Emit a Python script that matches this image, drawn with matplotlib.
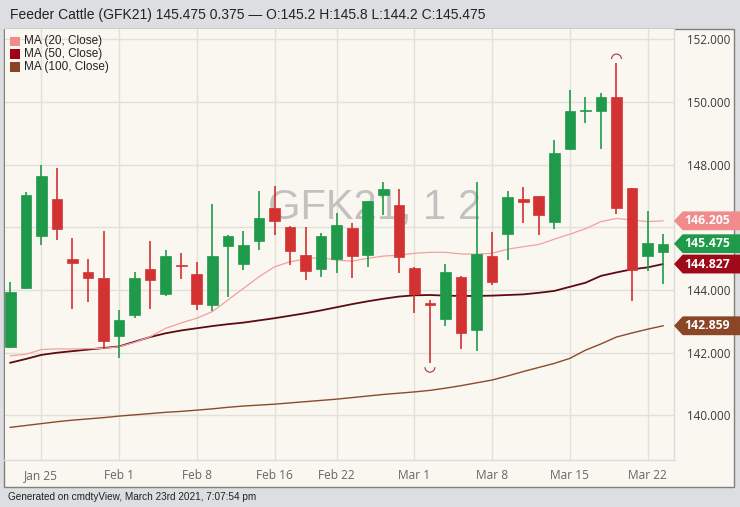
import matplotlib
matplotlib.use("Agg")
import matplotlib.pyplot as plt
from matplotlib.patches import Rectangle, Polygon, Arc
from matplotlib.transforms import blended_transform_factory

# ---------------- data ----------------
dates = ["Jan 21", "Jan 22", "Jan 25", "Jan 26", "Jan 27", "Jan 28", "Jan 29",
         "Feb 1", "Feb 2", "Feb 3", "Feb 4", "Feb 5",
         "Feb 8", "Feb 9", "Feb 10", "Feb 11", "Feb 12",
         "Feb 16", "Feb 17", "Feb 18", "Feb 19",
         "Feb 22", "Feb 23", "Feb 24", "Feb 25", "Feb 26",
         "Mar 1", "Mar 2", "Mar 3", "Mar 4", "Mar 5",
         "Mar 8", "Mar 9", "Mar 10", "Mar 11", "Mar 12",
         "Mar 15", "Mar 16", "Mar 17", "Mar 18", "Mar 19",
         "Mar 22", "Mar 23"]

opens = [142.17, 144.05, 145.72, 146.89, 145.00, 144.57, 144.38,
         142.54, 143.19, 144.66, 143.88, 144.79,
         144.51, 143.52, 145.41, 144.84, 145.57,
         146.60, 146.02, 145.11, 144.67,
         144.98, 145.99, 145.11, 147.03, 146.71,
         144.69, 143.58, 143.09, 144.41, 142.71,
         145.08, 145.77, 146.91, 146.99, 146.17,
         148.48, 149.69, 149.71, 150.14, 147.24,
         145.08, 145.2]
highs = [144.26, 147.12, 147.98, 147.88, 145.67, 144.99, 145.89,
         143.36, 144.56, 145.57, 145.27, 145.19,
         144.89, 146.73, 145.76, 145.89, 147.15,
         147.32, 146.05, 146.02, 145.81,
         146.44, 146.14, 146.85, 147.45, 147.22,
         144.72, 143.68, 144.83, 144.43, 147.45,
         145.84, 147.14, 147.29, 147.00, 148.78,
         150.37, 150.14, 150.27, 151.24, 147.26,
         146.53, 145.8]
lows = [142.15, 144.02, 145.44, 145.58, 143.40, 143.61, 142.12,
        141.82, 143.12, 143.38, 143.82, 144.36,
        143.35, 143.34, 143.79, 144.64, 145.29,
        145.75, 144.79, 144.32, 144.40,
        144.53, 144.39, 144.74, 146.39, 144.53,
        143.26, 141.66, 142.85, 142.11, 142.05,
        144.16, 144.95, 146.14, 145.74, 145.95,
        148.46, 149.31, 148.48, 146.42, 143.66,
        144.62, 144.2]
closes = [143.93, 147.03, 147.64, 145.93, 144.87, 144.37, 142.36,
          143.05, 144.38, 144.32, 145.08, 144.75,
          143.56, 145.08, 145.72, 145.45, 146.29,
          146.19, 145.25, 144.61, 145.72,
          146.07, 145.08, 146.83, 147.22, 145.06,
          143.87, 143.52, 144.57, 142.64, 145.14,
          144.26, 146.97, 146.80, 146.39, 148.36,
          149.71, 149.74, 150.16, 146.60, 144.64,
          145.51, 145.475]

ma20 = [141.90, 141.95, 142.10, 142.12, 142.12, 142.13, 142.14, 142.19, 142.33, 142.51,
        142.78, 142.95, 143.10, 143.31, 143.68, 144.05, 144.42, 144.74, 144.90, 144.99,
        145.04, 144.95, 144.92, 145.01, 145.08, 145.11, 145.17, 145.20, 145.20, 145.15,
        145.14, 145.17, 145.30, 145.38, 145.45, 145.62, 145.78, 145.95, 146.18, 146.28,
        146.23, 146.18, 146.205]
ma50 = [141.68, 141.80, 141.93, 142.00, 142.05, 142.10, 142.15, 142.20, 142.35, 142.50,
        142.62, 142.71, 142.78, 142.85, 142.91, 142.96, 143.03, 143.10, 143.18, 143.26,
        143.35, 143.45, 143.55, 143.64, 143.72, 143.79, 143.83, 143.84, 143.82, 143.81,
        143.81, 143.82, 143.84, 143.86, 143.91, 143.97, 144.10, 144.23, 144.45, 144.56,
        144.66, 144.72, 144.827]
ma100 = [139.62, 139.68, 139.74, 139.80, 139.85, 139.89, 139.93, 139.98, 140.02, 140.06,
         140.10, 140.13, 140.17, 140.21, 140.26, 140.30, 140.33, 140.36, 140.40, 140.44,
         140.48, 140.52, 140.57, 140.62, 140.67, 140.71, 140.75, 140.80, 140.87, 140.95,
         141.04, 141.13, 141.26, 141.40, 141.53, 141.66, 141.82, 142.08, 142.28, 142.50,
         142.63, 142.75, 142.859]

tick_dates = ["Jan 25", "Feb 1", "Feb 8", "Feb 16", "Feb 22", "Mar 1", "Mar 8", "Mar 15", "Mar 22"]
y_ticks = [140, 142, 144, 146, 148, 150, 152]
legend_labels = ["MA (20, Close)", "MA (50, Close)", "MA (100, Close)"]

symbol = "GFK21"
name = "Feeder Cattle"
last_change = 0.375

# ---------------- style ----------------
GREEN = "#1f9a4a"
RED = "#d23232"
C20 = "#f2a0a0"
C50 = "#5e0a10"
C100 = "#8b4a2b"
TAG20 = "#f08c8c"
TAG50 = "#9e0a18"
TAG100 = "#8b4628"
BG = "#faf7f1"

W, H = 740, 507
fig = plt.figure(figsize=(W / 100, H / 100), dpi=100)
fig.patch.set_facecolor("#dcdee1")

def fx(px):
    return px / W

def fy(py):
    return 1 - py / H

# chart box (behind the axes)
box = Rectangle((fx(4), fy(487)), fx(734) - fx(4), fy(29) - fy(487),
                transform=fig.transFigure, facecolor=BG,
                edgecolor="#808080", lw=1.0, zorder=-5)
fig.patches.append(box)

ax = fig.add_axes([fx(4.5), fy(460), fx(674) - fx(4.5), fy(29) - fy(460)], zorder=1)
ax.set_facecolor(BG)
n = len(dates)
idx = list(range(n))
ax.set_xlim(-0.37, 42.7)
ax.set_ylim(138.58, 152.32)

# grid
ax.set_yticks(y_ticks)
hidden = round(ma20[-1] / 2) * 2  # tick label hidden behind the MA20 tag
ax.set_yticklabels(["" if v == hidden else f"{v:.3f}" for v in y_ticks])
tpos = [dates.index(d) for d in tick_dates]
ax.set_xticks(tpos)
ax.set_xticklabels(tick_dates)
ax.grid(True, color="#e3dfd9", lw=1.0, zorder=0)
ax.set_axisbelow(True)
ax.yaxis.tick_right()
ax.tick_params(axis="y", length=0, pad=9.0, labelsize=8.4, labelcolor="#3a3a3a")
ax.tick_params(axis="x", length=0, pad=6.5, labelsize=8.6, labelcolor="#666666")
for lab in ax.get_yticklabels() + ax.get_xticklabels():
    lab.set_fontfamily("Open Sans")
for s in ["top", "left"]:
    ax.spines[s].set_visible(False)
for s in ["right", "bottom"]:
    ax.spines[s].set_color("#dcdcdc")
    ax.spines[s].set_linewidth(1.0)

# watermark
ax.text(0.552, 0.585, f"{symbol}, 1 2", transform=ax.transAxes, ha="center", va="center",
        fontsize=30, family="Liberation Sans", color="#b8b8b8", alpha=0.85, zorder=1)

# moving averages
ax.plot(idx, ma100, color=C100, lw=1.0, zorder=2)
ax.plot(idx, ma50, color=C50, lw=1.3, zorder=2)
ax.plot(idx, ma20, color=C20, lw=0.9, zorder=2)

# candles
for i in idx:
    o, h, l, c = opens[i], highs[i], lows[i], closes[i]
    col = GREEN if c >= o else RED
    ax.vlines(i, l, h, color=col, lw=1.2, zorder=3)
    ax.bar(i, max(abs(c - o), 0.04), bottom=min(o, c), width=0.68, color=col,
           edgecolor=col, lw=0.5, zorder=4)

# high/low markers
imax = highs.index(max(highs))
imin = lows.index(min(lows))
ax.add_patch(Arc((imax, highs[imax] + 0.12), 0.64, 0.32, theta1=0, theta2=180,
                 color="#b04848", lw=0.9, zorder=5))
ax.add_patch(Arc((imin, lows[imin] - 0.12), 0.64, 0.32, theta1=180, theta2=360,
                 color="#b04848", lw=0.9, zorder=5))

# price tags
bt = blended_transform_factory(ax.transAxes, ax.transData)
hh = 0.30
for val, col in [(ma20[-1], TAG20), (closes[-1], GREEN), (ma50[-1], TAG50), (ma100[-1], TAG100)]:
    poly = Polygon([(1.0, val), (1.013, val + hh), (1.1, val + hh), (1.1, val - hh), (1.013, val - hh)],
                   closed=True, transform=bt, facecolor=col, edgecolor="none",
                   clip_on=False, zorder=6)
    ax.add_patch(poly)
    ax.text(1.0495, val, f"{val:.3f}", transform=bt, ha="center", va="center",
            color="white", fontsize=8.8, fontweight="bold", family="Open Sans",
            clip_on=False, zorder=7)

# legend
leg_cols = [TAG20, "#a0001a", "#8b4423"]
for k, (lab, col) in enumerate(zip(legend_labels, leg_cols)):
    yc = 41.2 + 12.9 * k
    ax.add_patch(Rectangle((fx(10), fy(yc + 4.6)), fx(10), 9.2 / H,
                           transform=fig.transFigure, facecolor=col,
                           edgecolor="none", zorder=8, clip_on=False))
    fig.text(fx(24.3), fy(yc), lab, fontsize=8.5, family="Liberation Sans",
             color="#222222", va="center", ha="left", zorder=9)

# title
title = (f"{name} ({symbol}) {closes[-1]:.3f} {last_change:.3f} \u2014 "
         f"O:{opens[-1]:g} H:{highs[-1]:g} L:{lows[-1]:g} C:{closes[-1]:.3f}")
fig.text(fx(10), fy(14.5), title, fontsize=10, family="Liberation Sans",
         color="#222222", va="center", ha="left")

# footer
fig.text(fx(8), fy(497), "Generated on cmdtyView, March 23rd 2021, 7:07:54 pm",
         fontsize=7.2, family="Liberation Sans", color="#222222", va="center", ha="left")

fig.savefig("out.png", dpi=100, facecolor=fig.get_facecolor())
